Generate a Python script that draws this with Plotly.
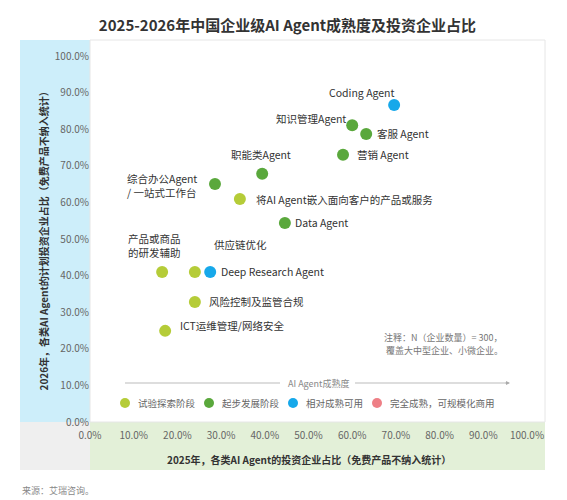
import plotly.graph_objects as go

names = ["Coding Agent","知识管理Agent","客服 Agent","营销 Agent","职能类Agent","综合办公Agent<br>/ 一站式工作台",
         "将AI Agent嵌入面向客户的产品或服务","Data Agent","产品或商品<br>的研发辅助","供应链优化","Deep Research Agent",
         "风险控制及监管合规","ICT运维管理/网络安全"]
x_vals = [69.6,60.0,63.2,57.9,39.4,28.6,34.3,44.6,16.5,24.0,27.5,24.0,17.2]
y_vals = [86.6,81.1,78.7,73.0,67.8,65.0,60.9,54.4,41.0,41.0,41.0,32.8,24.9]
stage = [2,1,1,1,1,1,0,1,0,0,2,0,0]
stage_names = ["试验探索阶段","起步发展阶段","相对成熟可用","完全成熟，可规模化商用"]
stage_colors = ["#b5cc38","#5aa83c","#16a8ea","#ee7f86"]
# label offsets in pixels (dx, dy up, anchor)
offs = [(-32,13,"center"),(-4,7,"right"),(9,0,"left"),(12,0,"left"),(-1,19,"center"),(-16,-1,"right"),
        (14,0,"left"),(8,0,"left"),(-36,26,"left"),(17,27,"left"),(9,0,"left"),(12,0,"left"),(13,5,"left")]

fig = go.Figure()
for s in range(3):
    idx = [i for i in range(len(names)) if stage[i]==s]
    fig.add_trace(go.Scatter(x=[x_vals[i] for i in idx], y=[y_vals[i] for i in idx],
        mode="markers", name=stage_names[s], marker=dict(size=12, color=stage_colors[s]), hoverinfo="skip"))

for i,n in enumerate(names):
    dx,dy,anc = offs[i]
    fig.add_annotation(x=x_vals[i], y=y_vals[i], text=n, showarrow=False, xshift=dx, yshift=dy,
        xanchor=anc, yanchor="middle", align="left", font=dict(size=10.5, color="#333"))

W, H = 437, 366
shapes = [
    dict(type="rect", xref="paper", yref="paper", x0=-70/W, x1=0, y0=0, y1=382/H, fillcolor="#cdeefa", line_width=0, layer="below"),
    dict(type="rect", xref="paper", yref="paper", x0=0, x1=455/W, y0=-48/H, y1=0, fillcolor="#e3f0d8", line_width=0, layer="below"),
    dict(type="rect", xref="paper", yref="paper", x0=-70/W, x1=0, y0=-48/H, y1=0, fillcolor="#efefef", line_width=0, layer="below"),
    dict(type="rect", xref="paper", yref="paper", x0=0, x1=455/W, y0=0, y1=382/H, fillcolor="white", line=dict(color="#e6e6e6", width=1), layer="below"),
    dict(type="line", xref="paper", yref="paper", x0=35/W, x1=190/W, y0=39/H, y1=39/H, line=dict(color="#aaa", width=0.8)),
    dict(type="line", xref="paper", yref="paper", x0=265/W, x1=418/W, y0=39/H, y1=39/H, line=dict(color="#aaa", width=0.8)),
]
leg_x = [35, 119, 203, 287]
for k in range(4):
    cx = leg_x[k]
    shapes.append(dict(type="circle", xref="paper", yref="paper", x0=(cx-5)/W, x1=(cx+5)/W, y0=14/H, y1=24/H,
                       fillcolor=stage_colors[k], line_width=0))
    fig.add_annotation(xref="paper", yref="paper", x=(cx+11)/W, y=19/H, xanchor="left", yanchor="middle",
                       text=stage_names[k], showarrow=False, font=dict(size=9.5, color="#666"))
fig.update_layout(shapes=shapes)
fig.add_annotation(xref="paper", yref="paper", x=420/W, y=39/H, ax=-6, ay=0, text="", showarrow=True,
    arrowhead=2, arrowsize=1, arrowwidth=0.8, arrowcolor="#aaa")
fig.add_annotation(xref="paper", yref="paper", x=228/W, y=39/H, yanchor="middle", text="AI Agent成熟度", showarrow=False,
    font=dict(size=9, color="#888"))
fig.add_annotation(xref="paper", yref="paper", x=415/W, y=85/H, yanchor="middle", text="注释：N（企业数量）= 300，", showarrow=False,
    xanchor="right", font=dict(size=9, color="#777"))
fig.add_annotation(xref="paper", yref="paper", x=415/W, y=72/H, yanchor="middle", text="覆盖大中型企业、小微企业。", showarrow=False,
    xanchor="right", font=dict(size=9, color="#777"))
fig.add_annotation(xref="paper", yref="paper", x=0.5, y=-38/H, yanchor="middle", text="<b>2025年，各类AI Agent的投资企业占比（免费产品不纳入统计）</b>",
    showarrow=False, font=dict(size=10, color="#333"))
fig.add_annotation(xref="paper", yref="paper", x=-57/W, y=0.5, textangle=-90,
    text="<b>2026年，各类AI Agent的计划投资企业占比（免费产品不纳入统计）</b>", showarrow=False, font=dict(size=10, color="#333"))
fig.add_annotation(xref="paper", yref="paper", x=-70/W, y=-68/H, xanchor="left", yanchor="middle",
    text="来源：艾瑞咨询。", showarrow=False, font=dict(size=9, color="#888"))

fig.update_layout(
    width=559, height=492, margin=dict(l=82, r=40, t=48, b=78),
    paper_bgcolor="white", plot_bgcolor="rgba(0,0,0,0)",
    font=dict(family="Noto Sans CJK SC, Noto Sans", color="#555"),
    title=dict(text="<b>2025-2026年中国企业级AI Agent成熟度及投资企业占比</b>", x=0.5, y=0.975, xanchor="center",
               font=dict(size=15, color="#333")),
    xaxis=dict(range=[0,100], dtick=10, ticksuffix="%", tickformat=".1f", showgrid=False, zeroline=False,
               showline=False, tickfont=dict(size=10, color="#666"), ticks="", ticklabelstandoff=6),
    yaxis=dict(range=[0,100], dtick=10, ticksuffix="%", tickformat=".1f", showgrid=False, zeroline=False,
               showline=False, tickfont=dict(size=10, color="#666"), ticks=""),
    showlegend=False,
)
fig.write_html("out.html")
